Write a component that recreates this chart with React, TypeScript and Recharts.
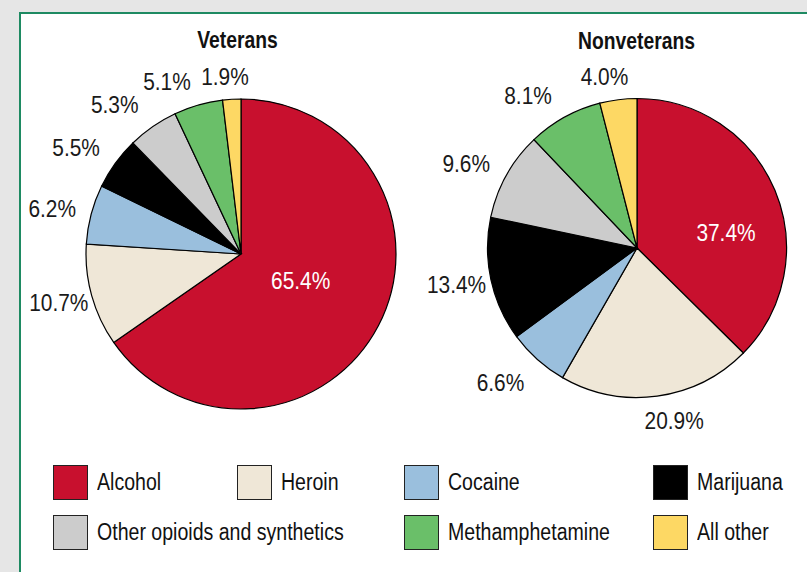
import React from "react";
import { PieChart, Pie, Cell } from "recharts";

const categories = [
  "Alcohol",
  "Heroin",
  "Cocaine",
  "Marijuana",
  "Other opioids and synthetics",
  "Methamphetamine",
  "All other",
];
const veteransValues = [65.4, 10.7, 6.2, 5.5, 5.3, 5.1, 1.9];
const nonveteransValues = [37.4, 20.9, 6.6, 13.4, 9.6, 8.1, 4.0];
const colors = ["#c8102e", "#efe7d7", "#9abfdd", "#000000", "#cccccc", "#6abf69", "#fdd864"];
const titles = ["Veterans", "Nonveterans"];

// label placement styling (pixel nudges from the polar anchor)
const veteransNudge = [
  [-9, -10],
  [-4, -1],
  [-10, 2],
  [-15, 2],
  [-21, 2],
  [-23, 5],
  [-5, 7],
];
const nonveteransNudge = [
  [20, 13],
  [13, -6],
  [-17, 0],
  [-5, -2],
  [-14, 3],
  [-22, 4],
  [-10, 6],
];

const FONT = "'Liberation Sans', Arial, Helvetica, sans-serif";
const SX = 0.87;

const veteransData = categories.map((name, i) => ({ name, value: veteransValues[i] }));
const nonveteransData = categories.map((name, i) => ({ name, value: nonveteransValues[i] }));

const RAD = Math.PI / 180;

const makeLabel = (nudge: number[][]) => (props: any) => {
  const { cx, cy, midAngle, outerRadius, value, index } = props;
  const inside = index === 0;
  const r = inside ? outerRadius * 0.5 : outerRadius + 30;
  const x = cx + r * Math.cos(-midAngle * RAD) + nudge[index][0];
  const y = cy + r * Math.sin(-midAngle * RAD) + nudge[index][1];
  return (
    <text
      key={`lbl-${index}`}
      transform={`translate(${x} ${y}) scale(${SX} 1)`}
      x={0}
      y={0}
      dy="0.36em"
      textAnchor="middle"
      fill={inside ? "#ffffff" : "#1a1a1a"}
      fontSize={24}
      fontFamily={FONT}
    >
      {value.toFixed(1)}%
    </text>
  );
};

const legendLayout = [
  { x: 53, y: 465 },
  { x: 237, y: 465 },
  { x: 404, y: 465 },
  { x: 653, y: 465 },
  { x: 53, y: 515 },
  { x: 404, y: 515 },
  { x: 653, y: 515 },
];

const Title = ({ x, y, text }: { x: number; y: number; text: string }) => (
  <text
    transform={`translate(${x} ${y}) scale(0.84 1)`}
    x={0}
    y={0}
    dy="0.36em"
    textAnchor="middle"
    fontSize={23}
    fontWeight="bold"
    fontFamily={FONT}
    fill="#111"
  >
    {text}
  </text>
);

export default function App() {
  return (
    <div
      style={{
        position: "absolute",
        left: 0,
        top: 0,
        width: 807,
        height: 572,
        background: "#e6e6e6",
        overflow: "hidden",
        fontFamily: FONT,
      }}
    >
      <div
        style={{
          position: "absolute",
          left: 19,
          top: 12,
          width: 820,
          height: 600,
          background: "#ffffff",
          borderLeft: "2px solid #1e8a62",
          borderTop: "2px solid #1e8a62",
        }}
      />
      <div style={{ position: "absolute", left: 0, top: 0 }}>
        <PieChart width={807} height={450} margin={{ top: 0, right: 0, bottom: 0, left: 0 }}>
          <Title x={237.5} y={40} text={titles[0]} />
          <Title x={636.5} y={41} text={titles[1]} />
          <Pie
            data={veteransData}
            dataKey="value"
            cx={241}
            cy={254}
            outerRadius={155}
            startAngle={90}
            endAngle={-270}
            stroke="#000"
            strokeWidth={1.2}
            label={makeLabel(veteransNudge)}
            labelLine={false}
            isAnimationActive={false}
          >
            {veteransData.map((d, i) => (
              <Cell key={d.name} fill={colors[i]} />
            ))}
          </Pie>
          <Pie
            data={nonveteransData}
            dataKey="value"
            cx={637}
            cy={248}
            outerRadius={149.5}
            startAngle={90}
            endAngle={-270}
            stroke="#000"
            strokeWidth={1.2}
            label={makeLabel(nonveteransNudge)}
            labelLine={false}
            isAnimationActive={false}
          >
            {nonveteransData.map((d, i) => (
              <Cell key={d.name} fill={colors[i]} />
            ))}
          </Pie>
        </PieChart>
      </div>
      {categories.map((name, i) => (
        <div
          key={name}
          style={{
            position: "absolute",
            left: legendLayout[i].x,
            top: legendLayout[i].y,
            display: "flex",
            alignItems: "center",
            height: 35,
          }}
        >
          <div
            style={{
              width: 33,
              height: 33,
              background: colors[i],
              border: "1px solid #222",
              flex: "none",
            }}
          />
          <span
            style={{
              marginLeft: 9,
              fontSize: 23,
              color: "#111",
              whiteSpace: "nowrap",
              display: "inline-block",
              transform: "scaleX(0.85)",
              transformOrigin: "left center",
            }}
          >
            {name}
          </span>
        </div>
      ))}
    </div>
  );
}
